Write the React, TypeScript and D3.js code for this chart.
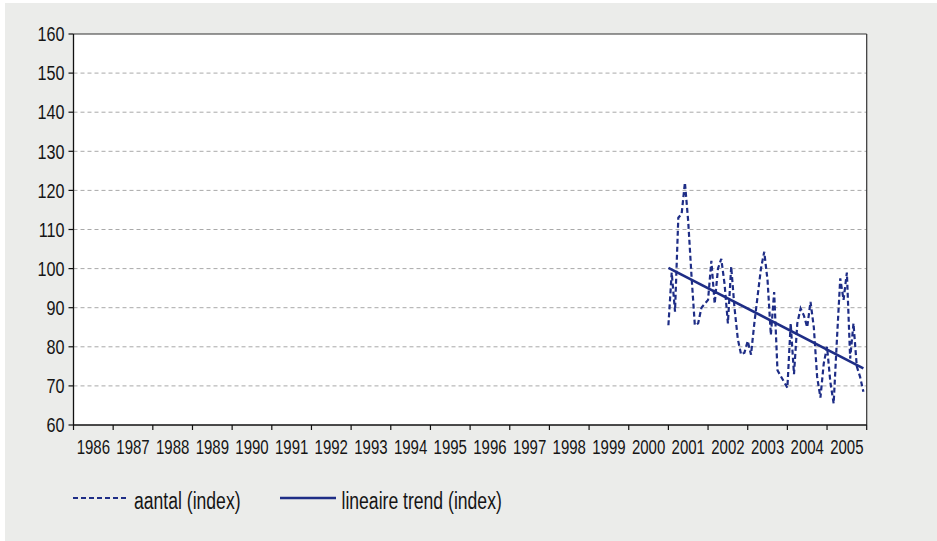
import React from "react";
import * as d3 from "d3";

const yearTicks = d3.range(1986, 2007);
const yearLabels = ["1986","1987","1988","1989","1990","1991","1992","1993","1994","1995","1996","1997","1998","1999","2000","2001","2002","2003","2004","2005"];
const yTicks = [60, 70, 80, 90, 100, 110, 120, 130, 140, 150, 160];
const startYear = 2001;
const aantal = [85.5, 99, 89, 113, 114, 122, 112, 98, 85.5, 86, 90, 91, 92, 102, 91, 100, 102.5, 96, 86, 100.5, 90, 82, 78, 78.5, 81.5, 78, 86, 93, 100, 104.3, 97, 83, 94, 74, 72.5, 71, 69.5, 86, 73, 86, 89.8, 88, 85, 91.5, 85, 72.3, 67, 75.7, 80, 71, 65.5, 82, 97.5, 92, 99, 77, 86, 75, 72.3, 68.5];
const trendEnds = [100.2, 74.5];
const legendLabels = ["aantal (index)", "lineaire trend (index)"];

const W = 937, H = 541;
const L = 73.5, R = 866.7, T = 34, B = 425;
const NAVY = "#1e2d86";
const FONT = "'Liberation Sans', Arial, sans-serif";

function SText(props: { x: number; y: number; size: number; sy: number; anchor?: string; children: React.ReactNode }) {
  return (
    <text
      transform={`translate(${props.x},${props.y}) scale(1,${props.sy})`}
      textAnchor={props.anchor || "start"}
      fontSize={props.size}
      fill="#151515"
    >
      {props.children}
    </text>
  );
}

export default function App() {
  const x = d3.scaleLinear().domain([1986, 2006]).range([L, R]);
  const y = d3.scaleLinear().domain([60, 160]).range([B, T]);
  const pts = aantal.map((v, i) => [startYear + i / 12, v] as [number, number]);
  const line = d3.line<[number, number]>().x(d => x(d[0])).y(d => y(d[1]));
  const trendPts: [number, number][] = [
    [startYear, trendEnds[0]],
    [startYear + (aantal.length - 1) / 12, trendEnds[1]],
  ];
  return (
    <svg width={W} height={H} style={{ position: "absolute", left: 0, top: 0 }} fontFamily={FONT}>
      <rect x={0} y={0} width={W} height={H} fill="#ffffff" />
      <rect x={5} y={3} width={W - 5} height={H - 3} fill="#ebecea" />
      <rect x={L} y={T} width={R - L} height={B - T} fill="#ffffff" />
      {yTicks.filter(t => t !== 60 && t !== 160).map(t => (
        <line key={t} x1={L} x2={R} y1={y(t)} y2={y(t)} stroke="#a9a9a9" strokeWidth={1} strokeDasharray="4,3" />
      ))}
      <path d={line(pts) || ""} fill="none" stroke={NAVY} strokeWidth={2.2} strokeDasharray="5,3" />
      <path d={line(trendPts) || ""} fill="none" stroke={NAVY} strokeWidth={2.6} />
      <line x1={L} x2={R} y1={T} y2={T} stroke="#333" strokeWidth={1.2} />
      <line x1={R} x2={R} y1={T} y2={B} stroke="#333" strokeWidth={1.2} />
      <line x1={L} x2={L} y1={T} y2={B} stroke="#111" strokeWidth={1.3} />
      <line x1={L} x2={R} y1={B} y2={B} stroke="#111" strokeWidth={1.3} />
      {yTicks.map(t => (
        <g key={t}>
          <line x1={L - 5} x2={L} y1={y(t)} y2={y(t)} stroke="#111" strokeWidth={1.2} />
          <SText x={64.5} y={y(t) + 7.2} size={16.2} sy={1.27} anchor="end">{t}</SText>
        </g>
      ))}
      {yearTicks.map(t => (
        <line key={t} x1={x(t)} x2={x(t)} y1={B} y2={B + 5} stroke="#111" strokeWidth={1.2} />
      ))}
      {yearLabels.map((lab, i) => (
        <SText key={lab} x={x(1986 + i + 0.5)} y={454} size={15} sy={1.3} anchor="middle">{lab}</SText>
      ))}
      <line x1={73} x2={129} y1={498} y2={498} stroke={NAVY} strokeWidth={2.2} strokeDasharray="5,3" />
      <SText x={134} y={508.5} size={17.6} sy={1.33}>{legendLabels[0]}</SText>
      <line x1={280} x2={336} y1={498} y2={498} stroke={NAVY} strokeWidth={2.6} />
      <SText x={341.5} y={508.5} size={17.6} sy={1.33}>{legendLabels[1]}</SText>
    </svg>
  );
}
